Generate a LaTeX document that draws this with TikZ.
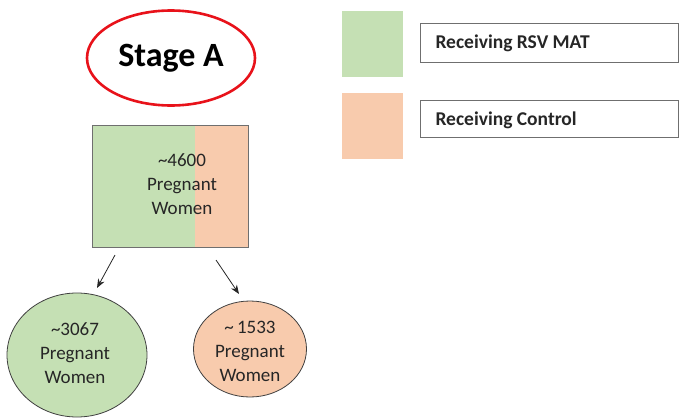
\documentclass[tikz,border=0pt]{standalone}
\usepackage{fontspec}
\setmainfont{Carlito}
\usetikzlibrary{arrows.meta,shapes.geometric}
\definecolor{matgreen}{HTML}{C5E0B4}
\definecolor{ctrlorange}{HTML}{F8CBAD}
\definecolor{stagered}{HTML}{E8121A}
\definecolor{edgegray}{HTML}{6F6F6F}
\begin{document}
\begin{tikzpicture}[x=1pt,y=-1pt,
  body/.style={font=\fontsize{19}{24}\selectfont, align=center, text=black!85},
  legendtext/.style={font=\bfseries\fontsize{19.5}{22}\selectfont, text=black!85},
  legendbox/.style={draw=edgegray, line width=0.9pt},
  swatch/.style={minimum width=61pt, minimum height=66pt, inner sep=0pt},
  arr/.style={-{Stealth[length=9pt,width=7pt]}, line width=0.8pt, black!85}]
\useasboundingbox (0,0) rectangle (681,418);

% stage label
\node[draw=stagered, line width=2.6pt, ellipse, minimum width=168pt, minimum height=95pt, inner sep=0pt,
      font=\bfseries\fontsize{34}{40}\selectfont] (stage) at (171,58) {Stage A};

% all participants, split by arm
\fill[matgreen] (92,125) rectangle (195,247);
\fill[ctrlorange] (195,125) rectangle (248,247);
\node[draw=edgegray, line width=1pt, minimum width=156pt, minimum height=122pt, inner sep=0pt] (main) at (170,186) {};
\node[body] (maintext) at (182,184) {\textasciitilde4600\\Pregnant\\Women};

% arms
\node[ellipse, draw=black!75, line width=0.8pt, fill=matgreen, minimum width=140pt, minimum height=124pt, inner sep=0pt] (mat) at (77,355) {};
\node[body] (mattext) at (75,353) {\textasciitilde3067\\Pregnant\\Women};
\node[ellipse, draw=black!75, line width=0.8pt, fill=ctrlorange, minimum width=113pt, minimum height=96pt, inner sep=0pt] (ctrl) at (250,349) {};
\node[body] (ctrltext) at (250,351) {\textasciitilde\,1533\\Pregnant\\Women};

\coordinate (a1s) at (115,255);
\coordinate (a1e) at (97,288);
\coordinate (a2s) at (216,260);
\coordinate (a2e) at (239,294);
\draw[arr] (a1s) -- (a1e);
\draw[arr] (a2s) -- (a2e);

% legend
\node[swatch, fill=matgreen] (sw1) at (372.5,44) {};
\node[swatch, fill=ctrlorange] (sw2) at (372.5,125.5) {};
\draw[legendbox] (420,23) rectangle (678,62);
\draw[legendbox] (420,100) rectangle (678,137);
\node[legendtext, anchor=base west] (l1) at (432,48) {Receiving RSV MAT};
\node[legendtext, anchor=base west] (l2) at (432,125) {Receiving Control};
\end{tikzpicture}
\end{document}
